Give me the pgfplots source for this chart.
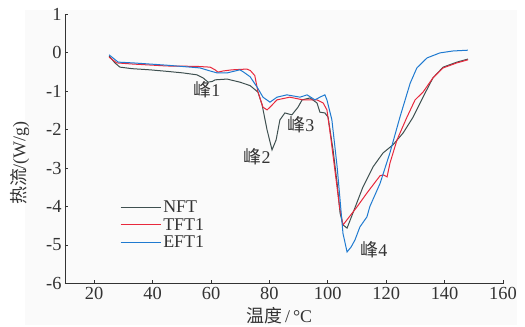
\documentclass[border=0pt]{standalone}
\usepackage{pgfplots}
\pgfplotsset{compat=1.18}
\usepackage{fontspec}
\setmainfont{Liberation Serif}
\newfontfamily\cjk{Noto Sans CJK SC}
\definecolor{cN}{HTML}{3F5050}
\definecolor{cT}{HTML}{E8283C}
\definecolor{cE}{HTML}{1F7AD0}
\definecolor{txt}{HTML}{333333}
\definecolor{bgc}{HTML}{FAFAFA}
\begin{document}
\begin{tikzpicture}
\fill[bgc] (-40bp,-41.5bp) rectangle (452bp,273.5bp);
\begin{axis}[
  scale only axis, width=438bp, height=269.5bp,
  xmin=10, xmax=160, ymin=-6, ymax=1,
  axis x line=bottom, axis y line=left,
  axis line style={-, txt, line width=0.8pt},
  xtick={20,40,...,160}, ytick={-6,-5,...,1},
  tick align=inside, major tick length=3bp,
  tick style={txt, line width=0.8pt},
  /pgf/number format/assume math mode=true,
  ticklabel style={font=\fontsize{18.5}{18.5}\selectfont, text=txt},
  xlabel={{\cjk 温度}\,/\,°C},
  ylabel={{\cjk 热流}/(W/g)},
  label style={font=\fontsize{18}{18}\selectfont, text=txt},
  xlabel style={at={(axis description cs:0.489,-0.12)}, anchor=center},
  ylabel style={at={(axis description cs:-0.103,0.447)}, anchor=center},
  legend style={at={(axis cs:28.8,-3.8)}, anchor=north west, draw=none, fill=none,
    font=\fontsize{18}{18}\selectfont, text=txt, row sep=0bp, inner sep=0pt},
  legend cell align=left,
  legend image code/.code={\draw[#1, line width=1.2bp] (0bp,0bp) -- (40bp,0bp);},
  every axis plot/.append style={line width=1bp},
  clip=false,
]
\addplot[cN] coordinates {
(25.1,-0.09) (27.1,-0.27) (28.8,-0.38) (33,-0.42) (39.1,-0.45) (45,-0.49) (50.4,-0.53) (55.2,-0.58) (57.3,-0.66) (59,-0.77) (60.5,-0.75) (61.4,-0.71) (65.5,-0.69) (69.9,-0.77) (73.4,-0.86) (76.1,-1.03) (77.5,-1.36) (79.2,-2.01) (80.9,-2.53) (82.3,-2.27) (83.6,-1.75) (85.3,-1.57) (87.7,-1.62) (89.8,-1.42) (91.2,-1.23) (93.9,-1.18) (96.3,-1.31) (97.3,-1.55) (99.0,-1.57) (100.1,-1.68) (101.8,-2.53) (103.2,-3.4) (104.2,-4.17) (105.2,-4.48) (106.6,-4.56) (108.6,-4.17) (112,-3.5) (115.5,-2.97) (118.9,-2.61) (122.3,-2.40) (125.8,-2.09) (129.2,-1.68) (132.6,-1.16) (136.0,-0.66) (139.5,-0.38) (144.2,-0.25) (148,-0.17)
};
\addlegendentry{NFT}
\addplot[cT] coordinates {
(25.1,-0.12) (27.7,-0.27) (33.3,-0.30) (44.9,-0.35) (55,-0.36) (59.7,-0.38) (61.4,-0.45) (62.4,-0.51) (64.1,-0.48) (67.2,-0.45) (72.3,-0.43) (73.5,-0.47) (75,-0.6) (76.1,-1.03) (77.8,-1.42) (79.2,-1.49) (80.2,-1.42) (82.6,-1.23) (87,-1.16) (91.5,-1.23) (96.3,-1.23) (98.4,-1.31) (99.7,-1.49) (101,-2.2) (102.5,-3.1) (104,-4.0) (105.2,-4.48) (110,-4.01) (113.4,-3.65) (117.9,-3.2) (119,-3.18) (120.3,-3.23) (121.3,-2.87) (123.7,-2.27) (127.1,-1.68) (129.9,-1.23) (132.6,-1.03) (136,-0.66) (139.5,-0.4) (144.2,-0.27) (148,-0.19)
};
\addlegendentry{TFT1}
\addplot[cE] coordinates {
(25.1,-0.06) (28.2,-0.25) (33.3,-0.27) (44.9,-0.33) (56.2,-0.40) (59.7,-0.48) (62.1,-0.53) (65.5,-0.53) (69.9,-0.45) (71,-0.5) (73.4,-0.63) (75.8,-0.9) (77.8,-1.16) (80.2,-1.29) (82.6,-1.16) (86,-1.1) (90.5,-1.16) (92.9,-1.1) (95.6,-1.23) (97.3,-1.16) (99,-1.1) (99.7,-1.23) (101.4,-1.75) (103.2,-2.97) (104.2,-3.83) (105.2,-4.7) (106.6,-5.18) (108,-5.05) (109.3,-4.87) (111,-4.53) (113.4,-4.27) (114.4,-4.0) (117.9,-3.4) (121.3,-2.6) (124.7,-1.68) (128.2,-0.8) (130.5,-0.4) (134,-0.14) (138.4,-0.01) (142.9,0.04) (148,0.06)
};
\addlegendentry{EFT1}
\node[text=txt, font=\fontsize{18}{18}\selectfont] at (axis cs:58.6,-0.97) {{\cjk 峰}1};
\node[text=txt, font=\fontsize{18}{18}\selectfont] at (axis cs:75.8,-2.71) {{\cjk 峰}2};
\node[text=txt, font=\fontsize{18}{18}\selectfont] at (axis cs:90.8,-1.88) {{\cjk 峰}3};
\node[text=txt, font=\fontsize{18}{18}\selectfont] at (axis cs:115.8,-5.13) {{\cjk 峰}4};
\end{axis}
\pgfresetboundingbox
\path[use as bounding box] (-65bp,-43.5bp) rectangle (460bp,283.5bp);
\end{tikzpicture}
\end{document}
